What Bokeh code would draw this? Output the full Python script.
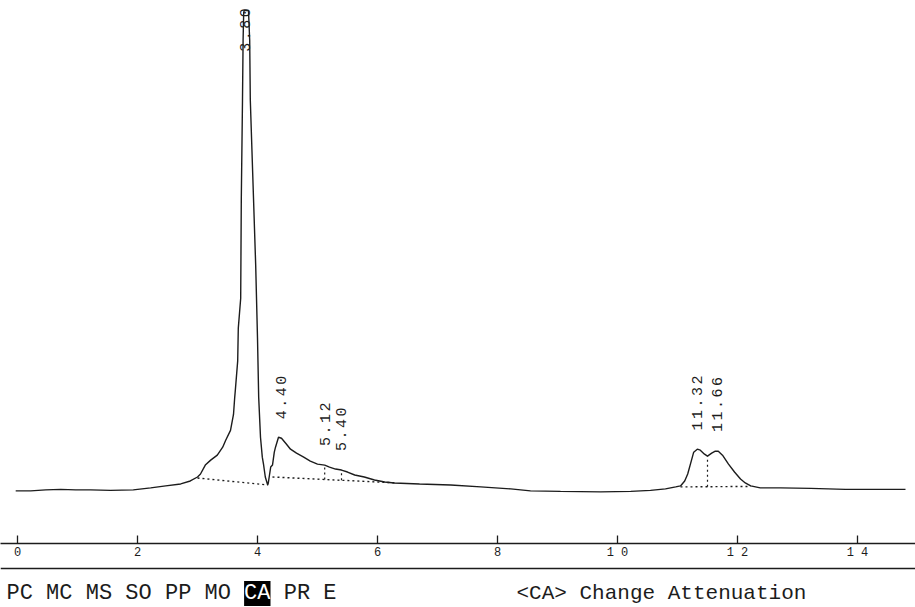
import numpy as np
from bokeh.plotting import figure
from bokeh.models import LinearAxis, FixedTicker, Label, Range1d, ColumnDataSource, Span
from bokeh.layouts import column
from bokeh.core.properties import value
from bokeh.embed import file_html
from bokeh.resources import INLINE

# ---- chromatogram trace (retention time in min, detector signal) ----
time_min = [-0.03, 0.22, 0.47, 0.72, 0.97, 1.22, 1.55, 1.93, 2.22, 2.47, 2.72, 2.88,
             3.00, 3.05, 3.13, 3.22, 3.33, 3.42, 3.47, 3.55, 3.60, 3.62, 3.63, 3.67,
             3.68, 3.72, 3.73, 3.75, 3.76, 3.77, 3.78, 3.85, 3.87, 3.88, 3.93, 3.97,
             4.00, 4.02, 4.05, 4.08, 4.10, 4.13, 4.17, 4.18, 4.20, 4.22, 4.25, 4.28,
             4.30, 4.35, 4.40, 4.47, 4.55, 4.65, 4.77, 4.88, 5.00, 5.12, 5.20, 5.30,
             5.40, 5.50, 5.62, 5.78, 5.95, 6.12, 6.28, 6.70, 7.22, 7.72, 8.22, 8.55,
             9.05, 9.72, 10.22, 10.55, 10.80, 10.97, 11.05, 11.12, 11.17, 11.22, 11.27,
             11.33, 11.38, 11.45, 11.50, 11.57, 11.63, 11.68, 11.75, 11.85, 11.95,
             12.05, 12.13, 12.22, 12.38, 12.72, 13.22, 13.80, 14.22, 14.80]
signal = [-1, -1, 0, 0.5, 0, 0, -0.5, 0, 2, 4, 6, 9,
          13, 16, 25, 30, 35, 43, 50, 60, 76, 93, 100, 130,
          163, 193, 293, 393, 453, 481, 483, 483, 453, 393, 300, 226,
          153, 93, 53, 33, 26, 13, 5, 7, 15, 23, 25, 38,
          43, 53, 52, 47, 41, 37, 33, 29, 26, 25, 23, 21,
          20, 18, 15, 13, 10, 8, 7, 6, 5, 3, 1, -1,
          -1.5, -2, -1.5, -0.5, 1, 3, 4, 9, 16, 27, 38,
          41, 40, 36, 34, 37, 39, 39, 35, 26, 18,
          11, 7, 4, 2, 2, 1.5, 0.5, 0.5, 0.5]

# ---- peak retention-time labels ----
peak_rt = [3.80, 4.40, 5.12, 5.40, 11.32, 11.66]
peak_labels = ["3.80", "4.40", "5.12", "5.40", "11.32", "11.66"]

# ---- integration baselines (dotted) ----
base_t = [[3.00, 4.17], [4.25, 6.33], [11.05, 12.22]]
base_s = [[12, 5], [13, 7], [3, 3.5]]
drop_rt = [5.12, 5.40, 11.50]
drop_base = [1, 1, 2]  # which baseline each drop line falls to

# ---- axis ticks ----
tick_values = [0, 2, 4, 6, 8, 10, 12, 14]
tick_labels = ["0", "2", "4", "6", "8", "1 0", "1 2", "1 4"]

# ---- footer texts ----
menu_items = ["PC", "MC", "MS", "SO", "PP", "MO", "CA", "PR", "E"]
active_item = "CA"
status_text = "<CA> Change Attenuation"

INK = "#1c1c1c"
MONO = "Liberation Mono"
W = 915

p = figure(width=W, height=562, output_backend="svg", toolbar_location=None,
           x_range=Range1d(-0.2833, -0.2833 + W / 60), y_range=Range1d(-54, 493),
           x_axis_location=None, y_axis_location=None,
           min_border_left=0, min_border_right=0, min_border_top=0, min_border_bottom=15)
p.outline_line_color = None
p.grid.visible = False
p.background_fill_color = "white"
p.border_fill_color = "white"

# trace
p.line(time_min, signal, line_color=INK, line_width=1.4)

# dotted integration baselines
for bt, bs in zip(base_t, base_s):
    p.line(bt, bs, line_color=INK, line_width=1.4, line_dash="2 3")

# drop lines
tarr = np.array(time_min, dtype=float)
sarr = np.array(signal, dtype=float)
for rt, bi in zip(drop_rt, drop_base):
    top = float(np.interp(rt, tarr, sarr))
    bot = float(np.interp(rt, base_t[bi], base_s[bi]))
    p.line([rt, rt], [bot, top], line_color=INK, line_width=1.2, line_dash="2 3")

# peak labels: rotated, printer-style wide character pitch
CH = 11.5  # character pitch in px
cx, cy, ct, coff = [], [], [], []
for rt, lab in zip(peak_rt, peak_labels):
    base = min(float(np.interp(rt, tarr, sarr)) + 18, 440)
    for i, c in enumerate(lab):
        cx.append(rt)
        cy.append(base)
        ct.append(c)
        coff.append(-(i + 0.5) * CH)
src = ColumnDataSource(dict(x=cx, y=cy, t=ct, off=coff))
p.text(x="x", y="y", text="t", source=src, angle=np.pi / 2, y_offset="off",
       text_align="center", text_baseline="middle",
       text_font=value(MONO), text_font_size="15px", text_color=INK)

# time axis
ax = LinearAxis(ticker=FixedTicker(ticks=tick_values),
                major_label_overrides={v: l for v, l in zip(tick_values, tick_labels)})
ax.major_tick_in = 8
ax.major_tick_out = 0
ax.minor_tick_line_color = None
ax.axis_line_color = INK
ax.axis_line_width = 1.5
ax.major_tick_line_color = INK
ax.major_tick_line_width = 1.3
ax.major_label_text_font = MONO
ax.major_label_text_font_size = "12px"
ax.major_label_text_color = INK
ax.major_label_standoff = 2
p.add_layout(ax, "below")

# ---- footer (status line) ----
FH = 45
f = figure(width=W, height=FH, output_backend="svg", toolbar_location=None,
           x_range=Range1d(0, W), y_range=Range1d(0, FH),
           x_axis_location=None, y_axis_location=None,
           min_border_left=0, min_border_right=0, min_border_top=0, min_border_bottom=0)
f.outline_line_color = None
f.grid.visible = False
f.add_layout(Span(location=FH - 6, dimension="width", line_color=INK, line_width=1.5))

menu_text = " ".join(menu_items)
FS = 22
f.add_layout(Label(x=6, y=14, text=menu_text, text_font=MONO,
                   text_font_size=f"{FS}px", text_color=INK, text_baseline="alphabetic"))
idx = menu_text.index(active_item)
f.add_layout(Label(x=6 + idx * 0.6 * FS, y=14, text=active_item, text_font=MONO,
                   text_font_size=f"{FS}px", text_color="white", text_baseline="alphabetic",
                   background_fill_color="black"))
f.add_layout(Label(x=516, y=14, text=status_text, text_font=MONO,
                   text_font_size="21px", text_color=INK, text_baseline="alphabetic"))

layout = column(p, f, spacing=0)
open("out.html", "w").write(file_html(layout, INLINE))
